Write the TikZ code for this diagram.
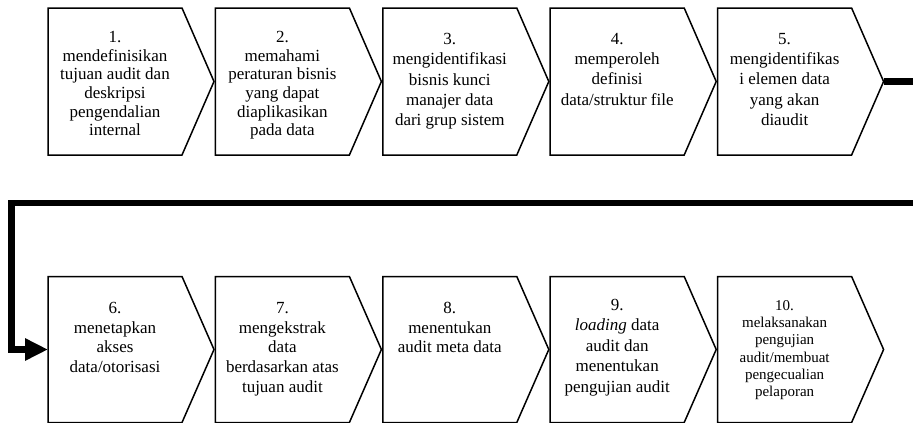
\documentclass[tikz,border=0pt]{standalone}
\usepackage{fontspec}
\setmainfont{Liberation Serif}
\usetikzlibrary{arrows.meta}
\tikzset{
	stepbox/.style={draw, line width=1.5pt, line join=miter},
	steptext/.style={anchor=north, align=center, inner sep=0pt, font=\fontsize{17}{19.7}\selectfont},
	flow/.style={line width=6.5pt, line join=miter, -{Triangle[length=23pt,width=21pt]}}
}
\begin{document}
\begin{tikzpicture}[x=1pt,y=-1pt]
	\useasboundingbox (0,0) rectangle (913,423);
	\foreach \x in {48,215.4,382.8,550.2,717.6}{
		\draw[stepbox] (\x,8) -- ++(134,0) -- ++(32,73.5) -- ++(-32,73.5) -- ++(-134,0) -- cycle;
		\draw[stepbox] (\x,276.5) -- ++(134,0) -- ++(32,73) -- ++(-32,73) -- ++(-134,0) -- cycle;
	}
	\node[steptext, font=\fontsize{17}{18.7}\selectfont] (s1) at (115,31) {1.\\ mendefinisikan\\ tujuan audit dan\\ deskripsi\\ pengendalian\\ internal};
	\node[steptext, font=\fontsize{17}{18.7}\selectfont] (s2) at (282.4,31) {2.\\ memahami\\ peraturan bisnis\\ yang dapat\\ diaplikasikan\\ pada data};
	\node[steptext, font=\fontsize{17}{20.3}\selectfont] (s3) at (449.8,33) {3.\\ mengidentifikasi\\ bisnis kunci\\ manajer data\\ dari grup sistem};
	\node[steptext, font=\fontsize{17}{20.3}\selectfont] (s4) at (617.2,33) {4.\\ memperoleh\\ definisi\\ data/struktur file};
	\node[steptext, font=\fontsize{17}{20.3}\selectfont] (s5) at (784.6,33) {5.\\ mengidentifikas\\ i elemen data\\ yang akan\\ diaudit};
	\node[steptext] (s6) at (115,302) {6.\\ menetapkan\\ akses\\ data/otorisasi};
	\node[steptext] (s7) at (282.4,302) {7.\\ mengekstrak\\ data\\ berdasarkan atas\\ tujuan audit};
	\node[steptext] (s8) at (449.8,302) {8.\\ menentukan\\ audit meta data};
	\node[steptext, font=\fontsize{17}{20.5}\selectfont] (s9) at (617.2,299) {9.\\ \textit{loading} data\\ audit dan\\ menentukan\\ pengujian audit};
	\node[steptext, font=\fontsize{15}{17.3}\selectfont] (s10) at (784.6,300) {10.\\ melaksanakan\\ pengujian\\ audit/membuat\\ pengecualian\\ pelaporan};
	\coordinate (tip5) at (883.6,81.5);
	\coordinate (out5) at (930,81.5);
	\coordinate (back) at (930,203);
	\coordinate (turn) at (11.5,203);
	\coordinate (in6) at (48,349.5);
	\draw[flow] (tip5) -- (out5) -- (back) -- (turn) |- (in6);
\end{tikzpicture}
\end{document}
